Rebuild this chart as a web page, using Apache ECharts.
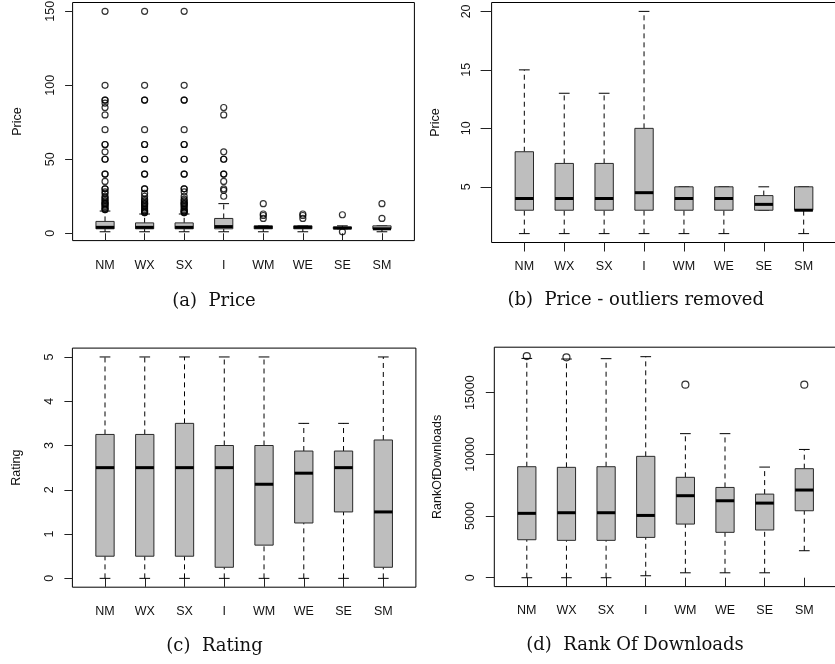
<!DOCTYPE html>
<html>
<head>
<meta charset="utf-8">
<script src="https://cdn.jsdelivr.net/npm/echarts@6/dist/echarts.min.js"></script>
<style>
  html, body { margin: 0; padding: 0; background: #fff; }
  #chart { width: 835px; height: 664px; }
</style>
</head>
<body>
<div id="chart"></div>
<script>
// Categories shared by all four panels
const categories = ['NM', 'WX', 'SX', 'I', 'WM', 'WE', 'SE', 'SM'];

// Price: five-number summaries (lower whisker, Q1, median, Q3, upper whisker)
const priceLow  = [1, 1, 1, 1, 1, 1, 3, 1];
const priceQ1   = [3, 3, 3, 3, 3, 3, 3, 3];
const priceMed  = [4, 4, 4, 4.5, 4, 4, 3.5, 3];
const priceQ3   = [8, 7, 7, 10, 5, 5, 4.25, 5];
const priceHigh = [15, 13, 13, 20, 5, 5, 5, 5];

// Price outliers per category
const priceOutliers = [
  [150, 100, 90, 90, 88, 85, 80, 70, 60, 60, 55, 50, 50, 40, 40, 35, 30, 30, 28, 27, 25, 24, 23, 22, 21, 20, 20, 19, 18, 17, 16, 16],
  [150, 100, 90, 90, 70, 60, 60, 50, 50, 40, 40, 30, 30, 27, 25, 23, 22, 21, 20, 20, 19, 18, 17, 16, 15, 15, 14, 14],
  [150, 100, 90, 90, 70, 60, 60, 50, 50, 40, 40, 30, 30, 28, 25, 23, 22, 21, 20, 20, 19, 18, 17, 16, 15, 15, 14, 14],
  [85, 80, 55, 50, 50, 40, 40, 35, 30, 29, 25],
  [20, 13, 12, 10],
  [13, 12, 10],
  [12.5, 0.99],
  [20, 10]
];

// Rating summaries
const ratingLow  = [0, 0, 0, 0, 0, 0, 0, 0];
const ratingQ1   = [0.5, 0.5, 0.5, 0.25, 0.75, 1.25, 1.5, 0.25];
const ratingMed  = [2.5, 2.5, 2.5, 2.5, 2.125, 2.375, 2.5, 1.5];
const ratingQ3   = [3.25, 3.25, 3.5, 3, 3, 2.875, 2.875, 3.125];
const ratingHigh = [5, 5, 5, 5, 5, 3.5, 3.5, 5];

// Rank of downloads summaries
const rankLow  = [0, 0, 0, 160, 400, 400, 400, 2190];
const rankQ1   = [3080, 3030, 3030, 3270, 4350, 3680, 3870, 5430];
const rankMed  = [5220, 5270, 5270, 5050, 6650, 6240, 6050, 7110];
const rankQ3   = [9000, 8950, 9000, 9840, 8140, 7320, 6780, 8840];
const rankHigh = [17780, 17730, 17760, 17920, 11680, 11680, 8970, 10400];
const rankOutliers = [[17970], [17870], [], [], [15650], [], [], [15650]];

// Tick values
const priceTicks = [0, 50, 100, 150];
const priceTrimTicks = [5, 10, 15, 20];
const ratingTicks = [0, 1, 2, 3, 4, 5];
const rankTicks = [0, 5000, 10000, 15000];

const BOX_W = 0.46;
const STAPLE_W = 0.27;
const SANS = 'Liberation Sans, Arial, sans-serif';
const SERIF = 'DejaVu Serif, serif';
const catPos = categories.map((c, i) => i + 1);

// 4% padded range, as in base R plots
function paddedRange(values) {
  const lo = Math.min(...values), hi = Math.max(...values);
  const e = (hi - lo) * 0.04;
  return [lo - e, hi + e];
}

function boxSeries(idx, low, q1, med, q3, high) {
  const data = categories.map((c, i) => [i + 1, low[i], q1[i], med[i], q3[i], high[i]]);
  return {
    type: 'custom', xAxisIndex: idx, yAxisIndex: idx, data: data,
    encode: { x: 0, y: [1, 2, 3, 4, 5] }, silent: true, clip: false,
    renderItem: function (params, api) {
      const x = api.value(0);
      const cx = api.coord([x, 0])[0];
      const yL = api.coord([x, api.value(1)])[1];
      const y1 = api.coord([x, api.value(2)])[1];
      const yM = api.coord([x, api.value(3)])[1];
      const y3 = api.coord([x, api.value(4)])[1];
      const yH = api.coord([x, api.value(5)])[1];
      const hb = api.size([BOX_W, 0])[0] / 2;
      const hs = api.size([STAPLE_W, 0])[0] / 2;
      const dash = { stroke: '#000', lineWidth: 1, lineDash: [5, 4] };
      const solid = { stroke: '#000', lineWidth: 1 };
      return {
        type: 'group',
        children: [
          { type: 'line', shape: { x1: cx, y1: y3, x2: cx, y2: yH }, style: dash },
          { type: 'line', shape: { x1: cx, y1: yL, x2: cx, y2: y1 }, style: dash },
          { type: 'line', shape: { x1: cx - hs, y1: yH, x2: cx + hs, y2: yH }, style: solid },
          { type: 'line', shape: { x1: cx - hs, y1: yL, x2: cx + hs, y2: yL }, style: solid },
          { type: 'rect', shape: { x: cx - hb, y: y3, width: 2 * hb, height: y1 - y3 },
            style: { fill: '#bebebe', stroke: '#2a2a2a', lineWidth: 1 } },
          { type: 'line', shape: { x1: cx - hb, y1: yM, x2: cx + hb, y2: yM },
            style: { stroke: '#000', lineWidth: 3 } }
        ]
      };
    }
  };
}

function outlierSeries(idx, lists, size) {
  const data = [];
  lists.forEach((arr, i) => arr.forEach(v => data.push([i + 1, v])));
  return {
    type: 'scatter', xAxisIndex: idx, yAxisIndex: idx, data: data,
    symbol: 'circle', symbolSize: size, silent: true,
    itemStyle: { color: 'rgba(0,0,0,0)', borderColor: '#000', borderWidth: 1.2 }
  };
}

function flatAll(...arrs) {
  const out = [];
  arrs.forEach(a => a.forEach(v => Array.isArray(v) ? out.push(...v) : out.push(v)));
  return out;
}

// Panel layout: frame, tick lengths and label gaps
const panels = [
  { grid: { left: 72.6, top: 2.5, width: 341.8, height: 238.1 }, xt: 7.5, yt: 7.5, xm: 18, ym: 16, ng: 49,
    name: 'Price', ticks: priceTicks, range: paddedRange(flatAll(priceLow, priceHigh, priceOutliers)) },
  { grid: { left: 491.6, top: 2.5, width: 344.8, height: 240 }, xt: 9, yt: 11, xm: 18, ym: 19, ng: 50,
    name: 'Price', ticks: priceTrimTicks, range: paddedRange(flatAll(priceLow, priceHigh)) },
  { grid: { left: 72.4, top: 348.1, width: 343.5, height: 239.1 }, xt: 8.5, yt: 8, xm: 18, ym: 16, ng: 49,
    name: 'Rating', ticks: ratingTicks, range: paddedRange(flatAll(ratingLow, ratingHigh)) },
  { grid: { left: 494.3, top: 347.2, width: 342.5, height: 239.4 }, xt: 8.5, yt: 8.5, xm: 17, ym: 17, ng: 50,
    name: 'RankOfDownloads', ticks: rankTicks, range: paddedRange(flatAll(rankLow, rankHigh, rankOutliers)) }
];

const option = {
  animation: false,
  backgroundColor: '#fff',
  grid: panels.map(p => Object.assign({ show: true, borderColor: '#000', borderWidth: 1,
    backgroundColor: 'transparent', containLabel: false, outerBoundsMode: 'none' }, p.grid)),
  xAxis: panels.map((p, i) => ({
    type: 'value', gridIndex: i, min: 0.18, max: 8.82,
    axisLine: { show: false }, splitLine: { show: false },
    axisTick: { show: true, customValues: catPos, length: p.xt, lineStyle: { color: '#222', width: 1 } },
    axisLabel: { customValues: catPos, formatter: v => categories[Math.round(v) - 1],
      margin: p.xm, fontFamily: SANS, fontSize: 12.5, color: '#111' }
  })),
  yAxis: panels.map((p, i) => ({
    type: 'value', gridIndex: i, min: p.range[0], max: p.range[1],
    name: p.name, nameLocation: 'middle', nameGap: p.ng, nameRotate: 90,
    nameTextStyle: { fontFamily: SANS, fontSize: 12.5, color: '#111' },
    axisLine: { show: false }, splitLine: { show: false },
    axisTick: { show: true, customValues: p.ticks, length: p.yt, lineStyle: { color: '#222', width: 1 } },
    axisLabel: { customValues: p.ticks, rotate: 90, margin: p.ym, formatter: v => String(v),
      fontFamily: SANS, fontSize: 12.5, color: '#111' }
  })),
  series: [
    boxSeries(0, priceLow, priceQ1, priceMed, priceQ3, priceHigh),
    outlierSeries(0, priceOutliers, 6),
    boxSeries(1, priceLow, priceQ1, priceMed, priceQ3, priceHigh),
    boxSeries(2, ratingLow, ratingQ1, ratingMed, ratingQ3, ratingHigh),
    boxSeries(3, rankLow, rankQ1, rankMed, rankQ3, rankHigh),
    outlierSeries(3, rankOutliers, 7)
  ],
  graphic: [
    { type: 'text', x: 214, y: 301, style: { text: '(a)  Price', font: '18px ' + SERIF, fill: '#111', textAlign: 'center', textVerticalAlign: 'middle' } },
    { type: 'text', x: 635.7, y: 300, style: { text: '(b)  Price - outliers removed', font: '18px ' + SERIF, fill: '#111', textAlign: 'center', textVerticalAlign: 'middle' } },
    { type: 'text', x: 214.5, y: 646.5, style: { text: '(c)  Rating', font: '18px ' + SERIF, fill: '#111', textAlign: 'center', textVerticalAlign: 'middle' } },
    { type: 'text', x: 635, y: 645.5, style: { text: '(d)  Rank Of Downloads', font: '18px ' + SERIF, fill: '#111', textAlign: 'center', textVerticalAlign: 'middle' } }
  ]
};

const chart = echarts.init(document.getElementById('chart'), null, { renderer: 'canvas' });
chart.setOption(option);
</script>
</body>
</html>
